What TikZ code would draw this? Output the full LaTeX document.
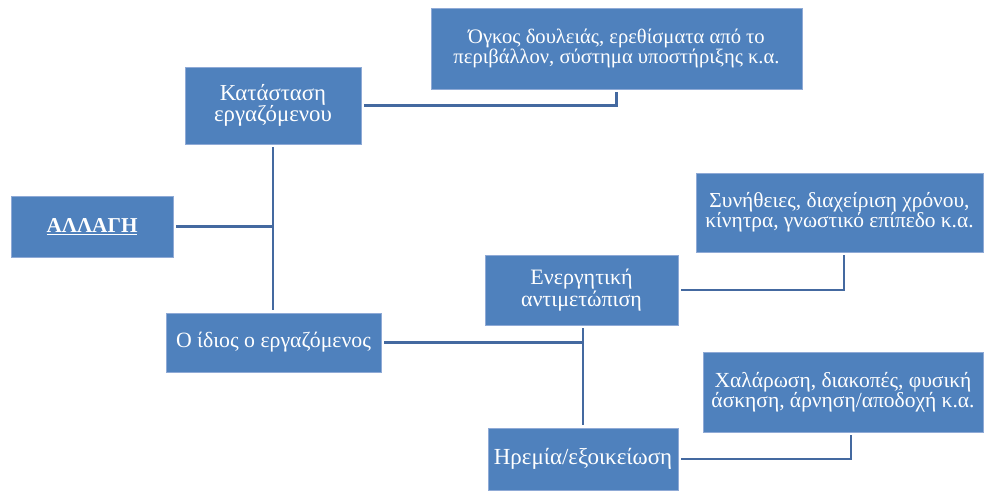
\documentclass[tikz,border=0pt]{standalone}
\usepackage{fontspec}
\setmainfont{Liberation Serif}
\definecolor{boxblue}{HTML}{4F81BD}
\definecolor{boxedge}{HTML}{8FAAD6}
\definecolor{linkblue}{HTML}{4469A0}
\tikzset{
  box/.style={rectangle, fill=boxblue, draw=boxedge, line width=0.7pt,
    text=white, align=center, inner sep=2pt, outer sep=3pt},
  link/.style={draw=linkblue, line width=2.8pt},
  fs/.style 2 args={font=\fontsize{#1}{#2}\selectfont}
}
\begin{document}
\begin{tikzpicture}[x=1pt,y=-1pt]
\useasboundingbox (0,0) rectangle (984,492);
\fill[white] (0,0) rectangle (984,492);

\node[box, fs={21.2}{22}, minimum width=162pt, minimum height=61pt] (allagi) at (92,226.5) {\textbf{\underline{ΑΛΛΑΓΗ}}};
\node[box, fs={22.8}{21.3}, minimum width=176pt, minimum height=77pt] (katastasi) at (273,105.5) {Κατάσταση\\εργαζόμενου};
\node[box, fs={20.6}{20}, minimum width=371pt, minimum height=81pt] (ogkos) at (616.5,48.5) {Όγκος δουλειάς, ερεθίσματα από το\\περιβάλλον, σύστημα υποστήριξης κ.α.};
\node[box, fs={21.8}{22}, minimum width=215pt, minimum height=59pt] (idios) at (273.5,342.5) {Ο ίδιος ο εργαζόμενος};
\node[box, fs={22}{22}, minimum width=193pt, minimum height=70pt] (energ) at (581.5,290) {Ενεργητική\\αντιμετώπιση};
\node[box, fs={23}{23}, minimum width=190pt, minimum height=62pt] (iremia) at (583,459) {Ηρεμία/εξοικείωση};
\node[box, fs={21.4}{20}, minimum width=287pt, minimum height=79pt] (synith) at (839.5,212.5) {Συνήθειες, διαχείριση χρόνου,\\κίνητρα, γνωστικό επίπεδο κ.α.};
\node[box, fs={21.5}{20}, minimum width=280pt, minimum height=80pt] (chalar) at (843,392) {Χαλάρωση, διακοπές, φυσική\\άσκηση, άρνηση/αποδοχή κ.α.};

\coordinate (c1) at ([xshift=4.5pt]synith.south);
\coordinate (c2) at ([xshift=8pt]chalar.south);

\draw[link] (katastasi.east) -| (ogkos.south);
\draw[link] (katastasi.south) -- (katastasi.south |- idios.north);
\draw[link] (allagi.east) -- (allagi.east -| katastasi.south);
\draw[link] (idios.east) -- (idios.east -| iremia.north);
\draw[link] (energ.south -| iremia.north) -- (iremia.north);
\draw[link] (energ.east) -| (c1);
\draw[link] (iremia.east) -| (c2);
\end{tikzpicture}
\end{document}
